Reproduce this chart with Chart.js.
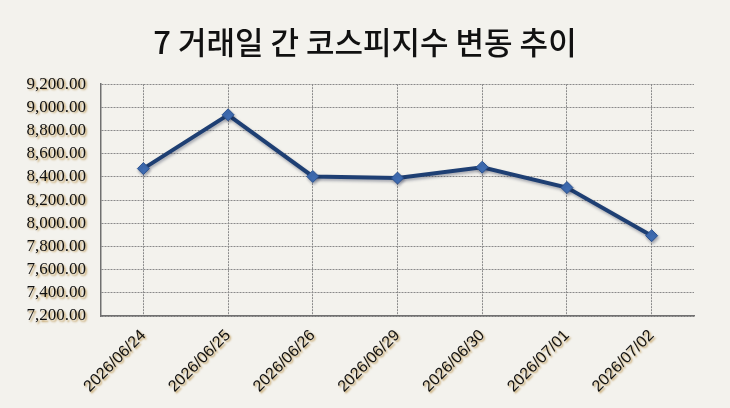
<!DOCTYPE html>
<html>
<head>
<meta charset="utf-8">
<script src="https://cdn.jsdelivr.net/npm/chart.js@4.4.1/dist/chart.umd.min.js"></script>
<style>
  html, body { margin: 0; padding: 0; background: #f3f2ed; }
  #wrap { width: 730px; height: 408px; }
</style>
</head>
<body>
<div id="wrap"><canvas id="kospiChart" width="730" height="408"></canvas></div>
<script>
// 데이터
const dates = ["2026/06/24", "2026/06/25", "2026/06/26", "2026/06/29", "2026/06/30", "2026/07/01", "2026/07/02"];
const kospiValues = [8472, 8936, 8404, 8390, 8484, 8308, 7893];
const yMin = 7200;
const yMax = 9200;
const yStep = 200;

// 선과 눈금 글자에 그림자
const shadows = {
  id: "shadows",
  beforeDatasetsDraw(chart) {
    const ctx = chart.ctx;
    ctx.save();
    ctx.shadowColor = "rgba(20, 30, 60, 0.35)";
    ctx.shadowBlur = 3;
    ctx.shadowOffsetX = 1;
    ctx.shadowOffsetY = 2;
  },
  afterDatasetsDraw(chart) {
    const ctx = chart.ctx;
    ctx.restore();
    ctx.save();
    ctx.shadowColor = "rgba(175, 130, 45, 0.75)";
    ctx.shadowBlur = 2;
    ctx.shadowOffsetX = 1.5;
    ctx.shadowOffsetY = 1.5;
  },
  afterDraw(chart) {
    chart.ctx.restore();
  }
};

const gridStyle = {
  color: "#8a8a8a",
  lineWidth: 1,
  drawTicks: false,
};

new Chart(document.getElementById("kospiChart"), {
  type: "line",
  data: {
    labels: dates,
    datasets: [
      {
        label: "코스피지수",
        data: kospiValues,
        borderColor: "#1e3f73",
        borderWidth: 4,
        tension: 0,
        pointStyle: "rectRot",
        pointRadius: 6,
        pointBackgroundColor: "#3f6db3",
        pointBorderColor: "#2b5290",
        pointBorderWidth: 1,
        fill: false,
      },
    ],
  },
  options: {
    responsive: false,
    animation: false,
    layout: { padding: 0 },
    plugins: {
      legend: { display: false },
      tooltip: { enabled: false },
      title: {
        display: true,
        text: "7 거래일 간 코스피지수 변동 추이",
        color: "#111",
        font: { family: "'Noto Sans CJK KR', sans-serif", size: 31, weight: 500, lineHeight: 1.2 },
        padding: { top: 24, bottom: 23 },
      },
    },
    scales: {
      x: {
        offset: true,
        afterFit(scale) { scale.height = 92; },
        grid: gridStyle,
        border: { display: true, color: "#707070", width: 1.5, dash: [2, 1] },
        ticks: {
          z: 1,
          maxRotation: 45,
          minRotation: 45,
          padding: 10,
          color: "#111",
          font: { family: "'Liberation Sans', Arial, sans-serif", size: 16 },
        },
      },
      y: {
        min: yMin,
        max: yMax,
        afterFit(scale) { scale.width = 101; },
        grid: gridStyle,
        border: { display: true, color: "#707070", width: 1.5, dash: [2, 1] },
        ticks: {
          z: 1,
          stepSize: yStep,
          autoSkip: false,
          padding: 15,
          color: "#111",
          font: { family: "'Liberation Serif', 'Times New Roman', serif", size: 17 },
          callback: (v) => v.toLocaleString("en-US", { minimumFractionDigits: 2, maximumFractionDigits: 2 }),
        },
      },
      // 오른쪽 여백용 빈 축
      yRight: {
        position: "right",
        display: true,
        afterFit(scale) { scale.width = 36; },
        grid: { display: false, drawTicks: false },
        border: { display: false },
        ticks: { display: false },
      },
    },
  },
  plugins: [shadows],
});
</script>
</body>
</html>
